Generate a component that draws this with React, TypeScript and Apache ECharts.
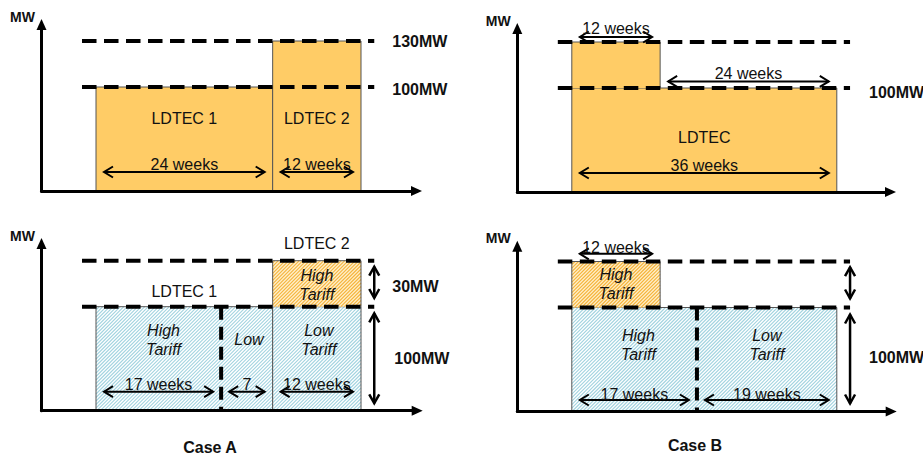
import React, { useEffect, useRef } from 'react';
import * as echarts from 'echarts';

// ================= DATA =================
const levelsMW = [100, 130];

// Case A – capacity: two LDTECs
const caseALdtecNames = ['LDTEC 1', 'LDTEC 2'];
const caseALdtecWeeks = [24, 12];
const caseALdtecMW = [100, 130];

// Case B – capacity: one LDTEC, 130 MW for 12 weeks then 100 MW for 24 weeks
const caseBLdtecName = 'LDTEC';
const caseBSegmentWeeks = [12, 24];
const caseBSegmentMW = [130, 100];

// Tariff view
const tariffBaseMW = 100;
const tariffTopUpMW = 30;

const caseATariffWeeks = [17, 7, 12];
const caseATariffNames = ['High\nTariff', 'Low', 'Low\nTariff'];
const caseATariffWeekLabels = ['17 weeks', '7', '12 weeks'];
const caseATopUpName = 'High\nTariff';

const caseBTariffWeeks = [17, 19];
const caseBTariffNames = ['High\nTariff', 'Low\nTariff'];
const caseBTariffWeekLabels = ['17 weeks', '19 weeks'];
const caseBTopUpWeeks = 12;
const caseBTopUpName = 'High\nTariff';

const caseTitles = ['Case A', 'Case B'];
const axisUnit = 'MW';

// ================= LAYOUT / STYLE =================
const FONT = "'Liberation Sans', Arial, Helvetica, sans-serif";
const panels = [
  { axisX: 41.5, baseY: 191, tipX: 422, tipY: 19 },
  { axisX: 517.3, baseY: 192, tipX: 896, tipY: 23 },
  { axisX: 41.5, baseY: 410.7, tipX: 422.7, tipY: 238 },
  { axisX: 517.3, baseY: 411.5, tipX: 896.7, tipY: 240.7 },
];
const ARROW = [10, 11];
const lowerBandPx = 104; // 0..100 MW band
const upperPxPerMW = 46 / 30; // exaggerated band above 100 MW
const pxPerWeek = 265 / 36;
const week0Gap = 54.5;
const xMin = -week0Gap / pxPerWeek;
const dashFromWeek = -1.9;
const dashToWeek = 37.8;
const FILLS = ['#FFCC66', '#FFFFFF', '#FFEFC9'];
const HATCH = ['', '#A3D4E0', '#F5B43C'];

const sum = (a: number[]) => a.reduce((s, v) => s + v, 0);
const starts = (a: number[]) => a.map((_, i) => sum(a.slice(0, i)));

// rect = [startWeek, endWeek, fromMW, toMW, kind]
function buildRects(): number[][][] {
  const aS = starts(caseALdtecWeeks);
  const p0 = caseALdtecWeeks.map((w, i) => [aS[i], aS[i] + w, 0, caseALdtecMW[i], 0]);

  const bS = starts(caseBSegmentWeeks);
  const bTotal = sum(caseBSegmentWeeks);
  const bBase = Math.min(...caseBSegmentMW);
  const p1 = [[0, bTotal, 0, bBase, 0]];
  caseBSegmentWeeks.forEach((w, i) => {
    if (caseBSegmentMW[i] > bBase) p1.push([bS[i], bS[i] + w, bBase, caseBSegmentMW[i], 0]);
  });

  const p2 = caseALdtecWeeks.map((w, i) => [aS[i], aS[i] + w, 0, tariffBaseMW, 1]);
  p2.push([aS[1], aS[1] + caseALdtecWeeks[1], tariffBaseMW, tariffBaseMW + tariffTopUpMW, 2]);

  const p3 = [[0, sum(caseBTariffWeeks), 0, tariffBaseMW, 1],
    [0, caseBTopUpWeeks, tariffBaseMW, tariffBaseMW + tariffTopUpMW, 2]];
  return [p0, p1, p2, p3];
}

function hatchPath(L: number, T: number, R: number, B: number, sp: number) {
  let d = '';
  const c0 = Math.ceil((L + T) / sp) * sp;
  for (let c = c0; c <= R + B; c += sp) {
    const xs = Math.max(L, c - B);
    const xe = Math.min(R, c - T);
    if (xe <= xs) continue;
    d += `M${xs.toFixed(2)} ${(c - xs).toFixed(2)}L${xe.toFixed(2)} ${(c - xe).toFixed(2)}`;
  }
  return d;
}

function gridGeom(p: number, b: number) {
  const g = panels[p];
  const width = g.tipX - ARROW[1] / 2 - g.axisX;
  if (b === 0) {
    return { left: g.axisX, top: g.baseY - lowerBandPx, width, height: lowerBandPx, yMin: 0, yMax: 100 };
  }
  const top = g.tipY + ARROW[1] / 2;
  const height = g.baseY - lowerBandPx - top;
  return { left: g.axisX, top, width, height, yMin: 100, yMax: 100 + height / upperPxPerMW };
}

function buildOption() {
  const grid: any[] = [];
  const xAxis: any[] = [];
  const yAxis: any[] = [];
  const series: any[] = [];
  const rectsByPanel = buildRects();
  const splits = [null, null, caseATariffWeeks[0], caseBTariffWeeks[0]];

  for (let p = 0; p < 4; p++) {
    for (let b = 0; b < 2; b++) {
      const gi = p * 2 + b;
      const gg = gridGeom(p, b);
      grid.push({ left: gg.left, top: gg.top, width: gg.width, height: gg.height, containLabel: false, outerBoundsMode: 'none' });
      xAxis.push({
        type: 'value', gridIndex: gi, min: xMin, max: xMin + gg.width / pxPerWeek, show: b === 0, z: 4,
        axisLine: { show: true, onZero: false, symbol: ['none', 'triangle'], symbolSize: ARROW, lineStyle: { color: '#000', width: 3 } },
        axisTick: { show: false }, axisLabel: { show: false }, splitLine: { show: false },
      });
      yAxis.push({
        type: 'value', gridIndex: gi, min: gg.yMin, max: gg.yMax, z: 4,
        axisLine: { show: true, onZero: false, symbol: b === 1 ? ['none', 'triangle'] : ['none', 'none'], symbolSize: ARROW, lineStyle: { color: '#000', width: 3 } },
        axisTick: { show: false }, axisLabel: { show: false }, splitLine: { show: false },
      });
      const bMin = gg.yMin;
      const bMax = b === 0 ? 100 : gg.yMax;
      series.push({
        type: 'custom', xAxisIndex: gi, yAxisIndex: gi, z: 2, silent: true,
        data: rectsByPanel[p],
        renderItem: (_params: any, api: any) => {
          const x0 = api.value(0), x1 = api.value(1), m0 = api.value(2), m1 = api.value(3), kind = api.value(4);
          const lo = Math.max(m0, bMin), hi = Math.min(m1, bMax);
          if (hi <= lo) return null;
          const pa = api.coord([x0, lo]);
          const pb = api.coord([x1, hi]);
          const L = pa[0], B = pa[1], R = pb[0], T = pb[1];
          const children: any[] = [
            { type: 'rect', shape: { x: L, y: T, width: R - L, height: B - T }, style: { fill: FILLS[kind] } },
          ];
          if (kind > 0) {
            const d = hatchPath(L, T, R, B, 3.5);
            if (d) children.push({ type: 'path', shape: { pathData: d }, style: { stroke: HATCH[kind], lineWidth: 1.1, fill: null } });
          }
          const edge = '#555';
          children.push({ type: 'line', shape: { x1: L, y1: T, x2: L, y2: B }, style: { stroke: edge, lineWidth: 1 } });
          children.push({ type: 'line', shape: { x1: R, y1: T, x2: R, y2: B }, style: { stroke: edge, lineWidth: 1 } });
          if (m1 <= bMax + 1e-6) children.push({ type: 'line', shape: { x1: L, y1: T, x2: R, y2: T }, style: { stroke: edge, lineWidth: 1 } });
          return { type: 'group', children };
        },
      });
      series.push({
        type: 'custom', xAxisIndex: gi, yAxisIndex: gi, z: 3, silent: true,
        data: levelsMW.map((m) => [m]),
        renderItem: (_params: any, api: any) => {
          const m = api.value(0);
          const inBand = b === 0 ? m <= 100 : m > 100;
          if (!inBand) return null;
          const a = api.coord([dashFromWeek, m]);
          const c = api.coord([dashToWeek, m]);
          return { type: 'line', shape: { x1: a[0], y1: a[1], x2: c[0], y2: c[1] }, style: { stroke: '#000', lineWidth: 4, lineDash: [14.5, 7.5] } };
        },
      });
      if (b === 0 && splits[p] != null) {
        series.push({
          type: 'custom', xAxisIndex: gi, yAxisIndex: gi, z: 3, silent: true,
          data: [[splits[p]]],
          renderItem: (_params: any, api: any) => {
            const w = api.value(0);
            const a = api.coord([w, 100]);
            const c = api.coord([w, 0]);
            return { type: 'line', shape: { x1: a[0], y1: a[1], x2: c[0], y2: c[1] }, style: { stroke: '#000', lineWidth: 4, lineDash: [13, 7] } };
          },
        });
      }
    }
  }
  return { animation: false, backgroundColor: '#fff', grid, xAxis, yAxis, series };
}

function buildGraphic(chart: any) {
  const els: any[] = [];
  const toPx = (p: number, b: number, w: number, m: number) => chart.convertToPixel({ gridIndex: p * 2 + b }, [w, m]) as number[];
  const X = (p: number, w: number) => toPx(p, 0, w, 0)[0];
  const Y = (p: number, m: number) => toPx(p, m > 100 ? 1 : 0, 0, m)[1];
  const mid = (p: number, a: number, b: number) => (X(p, a) + X(p, b)) / 2;

  const text = (x: number, y: number, t: string, o: any = {}) => {
    els.push({
      type: 'text', x, y, z: 10, silent: true,
      style: {
        text: t, fill: '#111', fontFamily: FONT, fontSize: o.size || 16, fontWeight: o.bold ? 'bold' : 'normal',
        fontStyle: o.italic ? 'italic' : 'normal', align: o.align || 'center', textAlign: o.align || 'center',
        verticalAlign: 'middle', textVerticalAlign: 'middle', lineHeight: o.lh || 19,
      },
    });
  };
  const stroke = (w: number) => ({ stroke: '#000', lineWidth: w, fill: null, lineCap: 'butt', lineJoin: 'miter' });
  const hArrow = (xa: number, xb: number, y: number) => {
    const hl = 9, hh = 5.5;
    els.push({ type: 'line', z: 10, silent: true, shape: { x1: xa, y1: y, x2: xb, y2: y }, style: stroke(2) });
    els.push({ type: 'polyline', z: 10, silent: true, shape: { points: [[xa + hl, y - hh], [xa, y], [xa + hl, y + hh]] }, style: stroke(2) });
    els.push({ type: 'polyline', z: 10, silent: true, shape: { points: [[xb - hl, y - hh], [xb, y], [xb - hl, y + hh]] }, style: stroke(2) });
  };
  const vArrow = (x: number, ya: number, yb: number) => {
    const hl = 9, hh = 5;
    els.push({ type: 'line', z: 10, silent: true, shape: { x1: x, y1: ya, x2: x, y2: yb }, style: stroke(2.5) });
    els.push({ type: 'polyline', z: 10, silent: true, shape: { points: [[x - hh, ya + hl], [x, ya], [x + hh, ya + hl]] }, style: stroke(2.5) });
    els.push({ type: 'polyline', z: 10, silent: true, shape: { points: [[x - hh, yb - hl], [x, yb], [x + hh, yb - hl]] }, style: stroke(2.5) });
  };
  const span = (p: number, s: number, e: number, y: number, ty: number, label: string) => {
    hArrow(X(p, s) + 8, X(p, e) - 8, y);
    text(mid(p, s, e), ty, label);
  };
  const [lv100, lv130] = levelsMW;

  // axis unit labels
  for (let p = 0; p < 4; p++) {
    const gg = gridGeom(p, 1);
    const tip = toPx(p, 1, xMin, gg.yMax);
    text(tip[0] - 19, tip[1] - ARROW[1] / 2 - 2.5, axisUnit, { bold: true, size: 14 });
  }

  // ---- Panel 0: Case A capacity
  {
    const p = 0;
    const s = starts(caseALdtecWeeks);
    const base = Y(p, 0);
    caseALdtecWeeks.forEach((w, i) => {
      text(mid(p, s[i], s[i] + w), base - 73, caseALdtecNames[i]);
      span(p, s[i], s[i] + w, base - 19, base - 27, `${w} weeks`);
    });
    const xl = X(p, dashToWeek) + 18;
    text(xl, Y(p, lv130), `${lv130}MW`, { align: 'left', bold: true });
    text(xl, Y(p, lv100) + 2, `${lv100}MW`, { align: 'left', bold: true });
  }
  // ---- Panel 1: Case B capacity
  {
    const p = 1;
    const s = starts(caseBSegmentWeeks);
    const total = sum(caseBSegmentWeeks);
    const base = Y(p, 0);
    text(mid(p, 0, total), base - 55, caseBLdtecName);
    span(p, 0, total, base - 19, base - 27, `${total} weeks`);
    caseBSegmentWeeks.forEach((w, i) => {
      const top = Y(p, caseBSegmentMW[i]);
      const isPeak = caseBSegmentMW[i] > lv100;
      span(p, s[i], s[i] + w, top - (isPeak ? 5 : 6.6), top - (isPeak ? 13.4 : 14.3), `${w} weeks`);
    });
    text(X(p, dashToWeek) + 19, Y(p, lv100) + 4.4, `${lv100}MW`, { align: 'left', bold: true });
  }
  // ---- Panel 2: Case A tariffs
  {
    const p = 2;
    const s = starts(caseALdtecWeeks);
    const t = starts(caseATariffWeeks);
    const base = Y(p, 0);
    const y100 = Y(p, tariffBaseMW);
    const yTop = Y(p, tariffBaseMW + tariffTopUpMW);
    text(mid(p, s[1], s[1] + caseALdtecWeeks[1]), yTop - 17.4, caseALdtecNames[1]);
    text(mid(p, s[0], s[0] + caseALdtecWeeks[0]), y100 - 15.3, caseALdtecNames[0]);
    text(mid(p, s[1], s[1] + caseALdtecWeeks[1]), (yTop + y100) / 2 + 1, caseATopUpName, { italic: true });
    caseATariffWeeks.forEach((w, i) => {
      text(mid(p, t[i], t[i] + w) + (i === 0 ? 5 : 2), y100 + 33, caseATariffNames[i], { italic: true });
      span(p, t[i], t[i] + w, base - 19, base - 26.7, caseATariffWeekLabels[i]);
    });
    const xr = X(p, dashToWeek);
    vArrow(xr, yTop + 6, y100 - 8.7);
    vArrow(xr, y100 + 6.7, base - 7.4);
    text(xr + 18, (yTop + y100) / 2 + 3, `${tariffTopUpMW}MW`, { align: 'left', bold: true });
    text(xr + 20, (y100 + base) / 2, `${tariffBaseMW}MW`, { align: 'left', bold: true });
  }
  // ---- Panel 3: Case B tariffs
  {
    const p = 3;
    const t = starts(caseBTariffWeeks);
    const base = Y(p, 0);
    const y100 = Y(p, tariffBaseMW);
    const yTop = Y(p, tariffBaseMW + tariffTopUpMW);
    span(p, 0, caseBTopUpWeeks, yTop - 7.7, yTop - 13.7, `${caseBTopUpWeeks} weeks`);
    text(mid(p, 0, caseBTopUpWeeks), (yTop + y100) / 2 - 1, caseBTopUpName, { italic: true });
    caseBTariffWeeks.forEach((w, i) => {
      text(mid(p, t[i], t[i] + w) + (i === 0 ? 4 : 0), y100 + 37, caseBTariffNames[i], { italic: true });
      span(p, t[i], t[i] + w, base - 11.5, base - 17.5, caseBTariffWeekLabels[i]);
    });
    const xr = X(p, dashToWeek);
    vArrow(xr, yTop + 5.7, y100 - 9);
    vArrow(xr, y100 + 7, base - 8);
    text(xr + 19, (y100 + base) / 2 - 2, `${tariffBaseMW}MW`, { align: 'left', bold: true });
  }
  // case titles
  text(210, 447, caseTitles[0], { bold: true, size: 16 });
  text(695, 445, caseTitles[1], { bold: true, size: 16 });
  return els;
}

export default function App() {
  const ref = useRef<HTMLDivElement>(null);
  useEffect(() => {
    const el = ref.current;
    if (!el) return;
    const chart = echarts.init(el, null, { renderer: 'svg', width: 923, height: 459 });
    chart.setOption(buildOption() as any);
    chart.setOption({ graphic: buildGraphic(chart) } as any);
    return () => chart.dispose();
  }, []);
  return <div ref={ref} style={{ position: 'fixed', left: 0, top: 0, width: 923, height: 459, background: '#fff' }} />;
}
